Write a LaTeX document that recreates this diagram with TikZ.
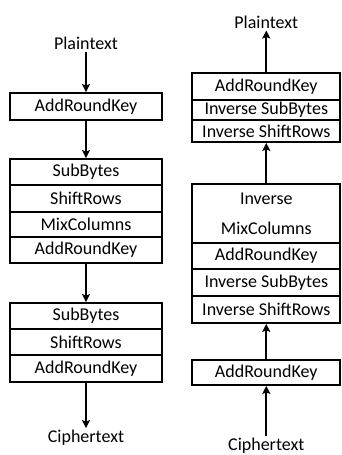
\documentclass[tikz,border=0pt]{standalone}
\usepackage{fontspec}
\setmainfont{Carlito}
\usetikzlibrary{calc,arrows.meta}
\tikzset{x=1pt,y=-1pt}
\tikzset{stage/.style={draw, line width=1.8pt, inner sep=0pt, align=center,
	font=\fontsize{18}{30}\selectfont}}
\tikzset{label/.style={inner sep=2pt, font=\fontsize{18}{22}\selectfont}}
\tikzset{flow/.style={line width=1.9pt, -{Stealth[length=8pt,width=8pt,inset=1.5pt]}}}
\def\xenc{86}
\def\wenc{152pt}
\def\xdec{266.3}
\def\wdec{148pt}

\begin{document}
\begin{tikzpicture}

\useasboundingbox (0,0) rectangle (341,455);

%% Encryption, left column
\node[label] (plain) at (\xenc,43) {Plaintext};
\node[stage, minimum width=\wenc, minimum height=27pt] (ark0) at (\xenc,106.5) {AddRoundKey};

\node[stage, minimum width=\wenc, minimum height=26pt] (sb1) at (\xenc,172) {SubBytes};
\node[stage, minimum width=\wenc, minimum height=27pt] (sr1) at (\xenc,198.5) {ShiftRows};
\node[stage, minimum width=\wenc, minimum height=25pt] (mc1) at (\xenc,224.5) {MixColumns};
\node[stage, minimum width=\wenc, minimum height=26pt] (ark1) at (\xenc,250) {AddRoundKey};

\node[stage, minimum width=\wenc, minimum height=26pt] (sb2) at (\xenc,316) {SubBytes};
\node[stage, minimum width=\wenc, minimum height=26pt] (sr2) at (\xenc,342) {ShiftRows};
\node[stage, minimum width=\wenc, minimum height=27pt] (ark2) at (\xenc,368.5) {AddRoundKey};
\node[label] (cipher) at (\xenc,438) {Ciphertext};

\draw[flow] (plain) -- (ark0);
\draw[flow] (ark0) -- (sb1);
\draw[flow] (ark1) -- (sb2);
\draw[flow] (ark2) -- (cipher);

%% Decryption, right column
\node[label] (plainI) at (\xdec,22) {Plaintext};
\node[stage, minimum width=\wdec, minimum height=27pt] (iark2) at (\xdec,86.5) {AddRoundKey};
\node[stage, minimum width=\wdec, minimum height=20pt] (isb2) at (\xdec,110) {Inverse SubBytes};
\node[stage, minimum width=\wdec, minimum height=22pt] (isr2) at (\xdec,131) {Inverse ShiftRows};

\node[stage, minimum width=\wdec, minimum height=59pt] (imc1) at (\xdec,213.5) {Inverse\\MixColumns};
\node[stage, minimum width=\wdec, minimum height=26pt] (iark1) at (\xdec,256) {AddRoundKey};
\node[stage, minimum width=\wdec, minimum height=27pt] (isb1) at (\xdec,282.5) {Inverse SubBytes};
\node[stage, minimum width=\wdec, minimum height=27pt] (isr1) at (\xdec,309.5) {Inverse ShiftRows};

\node[stage, minimum width=\wdec, minimum height=25pt] (iark0) at (\xdec,372.5) {AddRoundKey};
\node[label] (cipherI) at (\xdec,445.5) {Ciphertext};

\draw[flow] (cipherI) -- (iark0);
\draw[flow] (iark0) -- (isr1);
\draw[flow] (imc1) -- (isr2);
\draw[flow] (iark2) -- (plainI);

\end{tikzpicture}
\end{document}
